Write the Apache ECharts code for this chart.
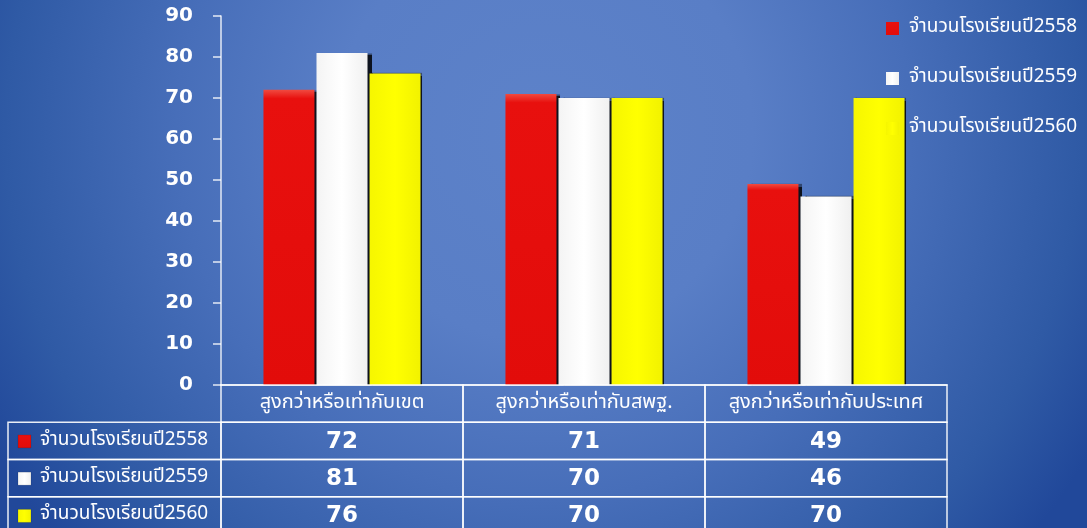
<!DOCTYPE html>
<html>
<head>
<meta charset="utf-8">
<script src="https://cdn.jsdelivr.net/npm/echarts@6/dist/echarts.min.js"></script>
<style>
html,body{margin:0;padding:0;width:1087px;height:528px;overflow:hidden;background:#2a55a2;}
#c{width:1087px;height:528px;}
</style>
</head>
<body>
<div id="c"></div>
<script>
const categories = ['สูงกว่าหรือเท่ากับเขต', 'สูงกว่าหรือเท่ากับสพฐ.', 'สูงกว่าหรือเท่ากับประเทศ'];
const seriesNames = ['จำนวนโรงเรียนปี2558', 'จำนวนโรงเรียนปี2559', 'จำนวนโรงเรียนปี2560'];
const values2558 = [72, 71, 49];
const values2559 = [81, 70, 46];
const values2560 = [76, 70, 70];
const yMin = 0, yMax = 90, yInterval = 10;

const seriesValues = [values2558, values2559, values2560];
const barColors = [
  {type:'linear',x:0,y:0,x2:0,y2:1,colorStops:[{offset:0,color:'#f04a40'},{offset:0.03,color:'#e8100e'},{offset:1,color:'#e20c0a'}]},
  {type:'linear',x:0,y:0,x2:1,y2:0,colorStops:[{offset:0,color:'#f4f4f4'},{offset:0.5,color:'#ffffff'},{offset:1,color:'#f0f0f0'}]},
  {type:'linear',x:0,y:0,x2:1,y2:0,colorStops:[{offset:0,color:'#f6f600'},{offset:0.5,color:'#ffff00'},{offset:1,color:'#f2f200'}]}
];
const shadowOffsets = [4, 4, 1.5];
const labelColWidth = 213;
const fontThai = '"Noto Sans Thai","Noto Sans","DejaVu Sans",sans-serif';
const fontNum = '"DejaVu Sans",sans-serif';

const chart = echarts.init(document.getElementById('c'));

const barSeries = seriesNames.map((n, i) => ({
  name: n,
  type: 'bar',
  xAxisIndex: 0,
  yAxisIndex: 0,
  data: seriesValues[i],
  barWidth: 51,
  barGap: '4%',
  itemStyle: {
    color: barColors[i],
    shadowColor: 'rgba(0,0,0,0.85)',
    shadowOffsetX: shadowOffsets[i],
    shadowOffsetY: 0,
    shadowBlur: 1
  },
  z: 2
}));

const cellData = [];
for (let c = 0; c < categories.length; c++) {
  cellData.push([c, 0]);
  for (let r = 0; r < seriesNames.length; r++) cellData.push([c, r + 1]);
}
const cellText = (c, r) => r === 0 ? categories[c] : String(seriesValues[r - 1][c]);
const rowData = seriesNames.map((n, r) => [0, r + 1]);

chart.setOption({
  backgroundColor: {
    type: 'radial', x: 0.5, y: 0.25, r: 1.2,
    colorStops: [
      {offset: 0, color: '#5d82c9'},
      {offset: 0.33, color: '#597ec6'},
      {offset: 0.58, color: '#476eb9'},
      {offset: 0.85, color: '#2f5aa5'},
      {offset: 1, color: '#21489a'}
    ]
  },
  animation: false,
  legend: {
    orient: 'vertical',
    left: 881,
    top: 14,
    itemWidth: 13,
    itemHeight: 13,
    itemGap: 31,
    icon: 'rect',
    textStyle: {color: '#ffffff', fontSize: 19, fontFamily: fontThai, padding: [0, 0, 0, 5]},
    data: seriesNames,
    selectedMode: false
  },
  grid: [
    {left: 221, width: 726, top: 16, height: 369, outerBoundsMode: 'none', containLabel: false},
    {left: 221, width: 726, top: 385, height: 149, outerBoundsMode: 'none', containLabel: false}
  ],
  xAxis: [
    {
      gridIndex: 0, type: 'category', data: categories,
      axisLine: {show: true, lineStyle: {color: 'rgba(255,255,255,0.9)', width: 1.5}},
      axisTick: {show: false}, axisLabel: {show: false}
    },
    {gridIndex: 1, type: 'category', data: categories, show: false}
  ],
  yAxis: [
    {
      gridIndex: 0, type: 'value', min: yMin, max: yMax, interval: yInterval,
      axisLine: {show: true, lineStyle: {color: 'rgba(255,255,255,0.85)', width: 1.5}},
      axisTick: {show: true, length: 8, lineStyle: {color: 'rgba(255,255,255,0.85)', width: 1.5}},
      splitLine: {show: false},
      axisLabel: {color: '#ffffff', fontSize: 20, fontWeight: 'bold', fontFamily: fontNum, margin: 28}
    },
    {gridIndex: 1, type: 'category', data: ['header'].concat(seriesNames), inverse: true, show: false}
  ],
  series: barSeries.concat([
    {
      type: 'custom',
      xAxisIndex: 1, yAxisIndex: 1,
      data: cellData,
      silent: true,
      z: 3,
      renderItem: function (params, api) {
        const c = api.value(0), r = api.value(1);
        const p = api.coord([c, r]);
        const s = api.size([1, 1]);
        const isHeader = r === 0;
        return {
          type: 'group',
          children: [
            {type: 'rect', shape: {x: p[0] - s[0] / 2, y: p[1] - s[1] / 2, width: s[0], height: s[1]},
             style: {fill: 'none', stroke: 'rgba(255,255,255,0.9)', lineWidth: 1.5}},
            {type: 'text', x: p[0], y: p[1] + (isHeader ? 0 : 1),
             style: {text: cellText(c, r), fill: '#ffffff', align: 'center', verticalAlign: 'middle',
                     font: isHeader ? ('20px ' + fontThai) : ('bold 23px ' + fontNum)}}
          ]
        };
      }
    },
    {
      type: 'custom',
      xAxisIndex: 1, yAxisIndex: 1,
      data: rowData,
      silent: true,
      z: 3,
      renderItem: function (params, api) {
        const r = api.value(1);
        const p = api.coord([0, r]);
        const s = api.size([1, 1]);
        const x0 = params.coordSys.x - labelColWidth;
        const top = p[1] - s[1] / 2;
        const idx = r - 1;
        return {
          type: 'group',
          children: [
            {type: 'rect', shape: {x: x0, y: top, width: labelColWidth, height: s[1]},
             style: {fill: 'none', stroke: 'rgba(255,255,255,0.9)', lineWidth: 1.5}},
            {type: 'rect', shape: {x: x0 + 10, y: p[1] - 6, width: 13, height: 13},
             style: {fill: barColors[idx], stroke: 'rgba(0,0,0,0.25)', lineWidth: 0.5}},
            {type: 'text', x: x0 + 32, y: p[1],
             style: {text: seriesNames[idx], fill: '#ffffff', align: 'left', verticalAlign: 'middle',
                     font: '19px ' + fontThai}}
          ]
        };
      }
    }
  ])
});
</script>
</body>
</html>
